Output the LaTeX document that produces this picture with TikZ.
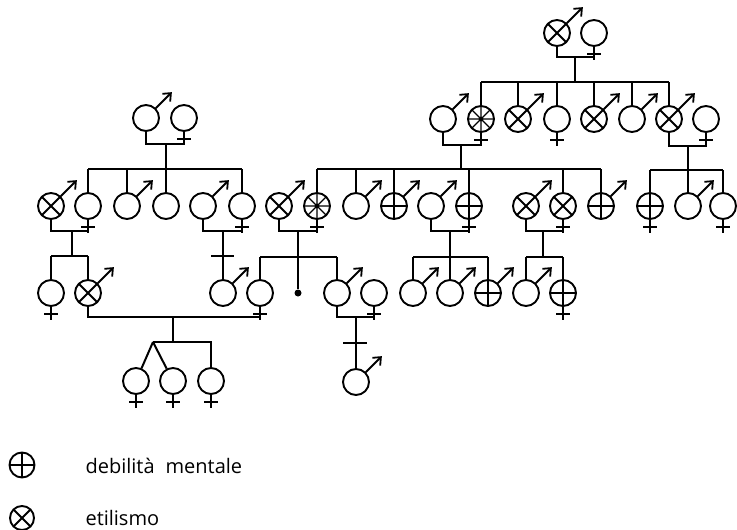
\documentclass[tikz,border=0pt]{standalone}
\usepackage{fontspec}
\setmainfont{Open Sans}
\usetikzlibrary{arrows.meta}
\newcommand\mkmale[1]{\draw[arr] (#1.45) -- ++(16,-16);}
\newcommand\mkfem[1]{\draw[lw] (#1.south) -- ++(0,13);
  \draw[lw] ([xshift=-7pt,yshift=-7pt]#1.south) -- ([xshift=7pt,yshift=-7pt]#1.south);}
\begin{document}
\begin{tikzpicture}[x=1pt,y=-1pt,
  lw/.style={line width=2pt},
  arr/.style={line width=1.8pt,-{Straight Barb[length=6.5pt,width=11pt]}},
  ind/.style={circle,draw,line width=1.9pt,minimum size=26pt,inner sep=0pt},
  xx/.style={ind,path picture={\draw[line width=1.8pt]
     (path picture bounding box.north west)--(path picture bounding box.south east)
     (path picture bounding box.north east)--(path picture bounding box.south west);}},
  pp/.style={ind,path picture={\draw[line width=1.8pt]
     (path picture bounding box.north)--(path picture bounding box.south)
     (path picture bounding box.east)--(path picture bounding box.west);}},
  wh/.style={ind,path picture={\draw[line width=1.4pt]
     (path picture bounding box.north west)--(path picture bounding box.south east)
     (path picture bounding box.north east)--(path picture bounding box.south west)
     (path picture bounding box.north)--(path picture bounding box.south)
     (path picture bounding box.east)--(path picture bounding box.west);
     \fill (path picture bounding box.center) circle (2.4pt);}},
  dotn/.style={circle,fill,inner sep=0pt,minimum size=7pt},
  leg/.style={anchor=base west,font=\fontsize{20}{24}\selectfont},
]
\useasboundingbox (0,0) rectangle (737,530);
% ---------- generation I
\node[xx]  (T1)  at (557,33) {};
\node[ind] (T2)  at (594,33) {};
\node[ind] (L1a) at (146,118) {};
\node[ind] (L1b) at (184,118) {};
% ---------- generation II (row 1)
\node[ind] (R1a) at (443,119) {};
\node[wh]  (R1b) at (481,119) {};
\node[xx]  (R1c) at (518,119) {};
\node[ind] (R1d) at (557,119) {};
\node[xx]  (R1e) at (594,119) {};
\node[ind] (R1f) at (632,119) {};
\node[xx]  (R1g) at (669,119) {};
\node[ind] (R1h) at (706,119) {};
% ---------- row 2
\node[xx]  (L2a) at (51,206) {};
\node[ind] (L2b) at (88,206) {};
\node[ind] (L2c) at (127,206) {};
\node[ind] (L2d) at (166,206) {};
\node[ind] (L2e) at (203,206) {};
\node[ind] (L2f) at (242,206) {};
\node[xx]  (M2a) at (279,206) {};
\node[wh]  (M2b) at (317,206) {};
\node[ind] (M2c) at (356,206) {};
\node[pp]  (M2d) at (394,206) {};
\node[ind] (M2e) at (431,206) {};
\node[pp]  (M2f) at (469,206) {};
\node[xx]  (M2g) at (526,206) {};
\node[xx]  (M2h) at (563,206) {};
\node[pp]  (M2i) at (601,206) {};
\node[pp]  (R2a) at (650,206) {};
\node[ind] (R2b) at (688,206) {};
\node[ind] (R2c) at (723,206) {};
% ---------- row 3
\node[ind] (L3a) at (51,293) {};
\node[xx]  (L3b) at (88,293) {};
\node[ind] (L3c) at (223,293) {};
\node[ind] (L3d) at (260,293) {};
\node[dotn] (D3) at (298,293) {};
\node[ind] (L3e) at (337,293) {};
\node[ind] (L3f) at (374,293) {};
\node[ind] (M3a) at (413,293) {};
\node[ind] (M3b) at (450,293) {};
\node[pp]  (M3c) at (488,293) {};
\node[ind] (M3d) at (526,293) {};
\node[pp]  (M3e) at (563,293) {};
% ---------- row 4
\node[ind] (B1) at (136,381) {};
\node[ind] (B2) at (173,381) {};
\node[ind] (B3) at (211,381) {};
\node[ind] (S1) at (356,382) {};
% ---------- sex symbols
\foreach \n in {T1,L1a,R1a,R1c,R1e,R1f,R1g,L2a,L2c,L2e,M2a,M2c,M2d,M2e,M2g,M2i,R2b,
  L3b,L3c,L3e,M3a,M3b,M3c,M3d,S1} {\mkmale{\n}}
\foreach \n in {T2,L1b,R1b,R1d,R1h,L2b,L2f,M2b,M2f,M2h,R2a,R2c,L3a,L3d,L3f,M3e,B1,B2,B3}
  {\mkfem{\n}}
% ---------- marriage points and sibship points
\coordinate (mT) at (575,57);  \coordinate (sT) at (575,82);
\coordinate (mL) at (166,144); \coordinate (sL) at (166,169);
\coordinate (mM) at (461,145); \coordinate (sM) at (461,169);
\coordinate (mR) at (688,146); \coordinate (sR) at (688,170);
\coordinate (m1) at (72,231);  \coordinate (s1) at (72,256);
\coordinate (m2) at (223,231);
\coordinate (m3) at (298,231); \coordinate (s3) at (298,257);
\coordinate (m4) at (450,231); \coordinate (s4) at (450,257);
\coordinate (m5) at (543,231); \coordinate (s5) at (543,257);
\coordinate (m6) at (173,317); \coordinate (s6) at (153,342);
\coordinate (m7) at (356,317);
\begin{scope}[lw]
% generation I
\draw (T1.south) |- (mT) -| (T2.south);
\draw (mT) -- (sT);
\draw (R1b.north |- sT) -- (R1g.north |- sT);
\foreach \n in {R1b,R1c,R1d,R1e,R1f,R1g} {\draw (\n.north |- sT) -- (\n.north);}
\draw (L1a.south) |- (mL) -| (L1b.south);
\draw (mL) -- (sL);
\draw (L2b.north |- sL) -- (L2f.north |- sL);
\foreach \n in {L2b,L2c,L2d,L2f} {\draw (\n.north |- sL) -- (\n.north);}
% generation II
\draw (R1a.south) |- (mM) -| (R1b.south);
\draw (mM) -- (sM);
\draw (M2b.north |- sM) -- (M2i.north |- sM);
\foreach \n in {M2b,M2c,M2d,M2f,M2h,M2i} {\draw (\n.north |- sM) -- (\n.north);}
\draw (R1g.south) |- (mR) -| (R1h.south);
\draw (mR) -- (sR);
\draw (R2a.north |- sR) -- (R2c.north |- sR);
\foreach \n in {R2a,R2b,R2c} {\draw (\n.north |- sR) -- (\n.north);}
% generation III
\draw (L2a.south) |- (m1) -| (L2b.south);
\draw (m1) -- (s1);
\draw (L3a.north |- s1) -- (L3b.north |- s1);
\foreach \n in {L3a,L3b} {\draw (\n.north |- s1) -- (\n.north);}
\draw (L2e.south) |- (m2) -| (L2f.south);
\draw (m2) -- (L3c.north);
\draw ([xshift=-12pt]L3c.north |- s1) -- ([xshift=11pt]L3c.north |- s1);
\draw (M2a.south) |- (m3) -| (M2b.south);
\draw (m3) -- (D3);
\draw (L3d.north |- s3) -- (L3e.north |- s3);
\foreach \n in {L3d,L3e} {\draw (\n.north |- s3) -- (\n.north);}
\draw (M2e.south) |- (m4) -| (M2f.south);
\draw (m4) -- (s4);
\draw (M3a.north |- s4) -- (M3c.north |- s4);
\foreach \n in {M3a,M3b,M3c} {\draw (\n.north |- s4) -- (\n.north);}
\draw (M2g.south) |- (m5) -| (M2h.south);
\draw (m5) -- (s5);
\draw (M3d.north |- s5) -- (M3e.north |- s5);
\foreach \n in {M3d,M3e} {\draw (\n.north |- s5) -- (\n.north);}
% generation IV
\draw (L3b.south) |- (m6) -| (L3d.south);
\draw (m6) -- (m6 |- s6);
\draw (s6) -| (B3.north);
\draw (s6) -- (B1);
\draw (s6) -- (B2);
\draw (L3e.south) |- (m7) -| (L3f.south);
\draw (m7) -- (S1.north);
\draw ([xshift=-13pt,yshift=-26pt]m7) -- ([xshift=11pt,yshift=-26pt]m7);
\end{scope}
% ---------- legend
\node[pp,minimum size=25pt] (LP) at (22,465) {};
\node[xx,minimum size=24pt] (LX) at (22,518) {};
\node[leg] (TP) at (82,473) {debilità\hspace{0.55em}mentale};
\node[leg] (TX) at (82,525) {etilismo};
\end{tikzpicture}
\end{document}
